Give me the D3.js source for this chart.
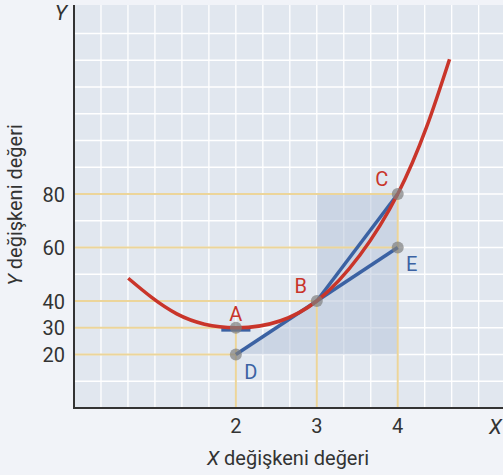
<!doctype html>
<html>
  <head>
    <meta charset="utf-8">
    <style>
      body { margin: 0; background: #f1f3f8; }
      svg { display: block; font-family: Roboto, "Noto Sans", sans-serif; }
    </style>
  </head>
  <body>
    <div id="chart"></div>
    <script src="https://d3js.org/d3.v7.min.js"></script>
    <script>
      // values
      var xTicks = [2, 3, 4];
      var yTicks = [20, 30, 40, 60, 80];
      var curveX = [0.67, 1.27, 2, 3, 4, 4.64];
      var curveY = [48.5, 35.2, 30, 40, 80, 130.4];
      var pointNames = ['A', 'B', 'C', 'D', 'E'];
      var pointX = [2, 3, 4, 2, 4];
      var pointY = [30, 40, 80, 20, 60];
      var shadeX = [2, 3, 3, 4, 4];
      var shadeY = [20, 40, 80, 80, 20];
      var tangentA = [[1.82, 29.2], [2.18, 29.2]];

      var width = 503, height = 475;
      var x = d3.scaleLinear().domain([0, 5.35]).range([74, 507]);
      var y = d3.scaleLinear().domain([0, 150]).range([408, 6.75]);

      var svg = d3.select('#chart').append('svg')
        .attr('width', width).attr('height', height);

      // plot background + grid
      svg.append('rect')
        .attr('x', x(0)).attr('y', 5)
        .attr('width', width - x(0)).attr('height', y(0) - 5)
        .attr('fill', '#e1e7ef');

      var gx = d3.range(1, 16).map(function(i) { return i / 3; });
      var gy = d3.range(10, 150, 10);
      svg.append('g').selectAll('line').data(gx).enter().append('line')
        .attr('x1', x).attr('x2', x).attr('y1', 5).attr('y2', y(0))
        .attr('stroke', '#fff').attr('stroke-width', 1.3);
      svg.append('g').selectAll('line').data(gy).enter().append('line')
        .attr('y1', y).attr('y2', y).attr('x1', x(0)).attr('x2', width)
        .attr('stroke', '#fff').attr('stroke-width', 1.3);

      // shaded region
      var shade = shadeX.map(function(d, i) { return [x(d), y(shadeY[i])]; });
      svg.append('path')
        .attr('d', d3.line()(shade) + 'Z')
        .attr('fill', '#b9c6db').attr('opacity', 0.55);

      // yellow guide lines
      var guide = svg.append('g').attr('stroke', '#ecd59a').attr('stroke-width', 2);
      [0, 1, 2, 3, 4].forEach(function(i) {
        guide.append('line')
          .attr('x1', x(0)).attr('x2', x(pointX[i]))
          .attr('y1', y(pointY[i])).attr('y2', y(pointY[i]));
      });
      [0, 1, 2].forEach(function(i) {
        guide.append('line')
          .attr('x1', x(pointX[i])).attr('x2', x(pointX[i]))
          .attr('y1', y(0)).attr('y2', y(pointY[i]));
      });

      // blue lines
      var blue = '#3b62a3', red = '#c9352a';
      var line = d3.line().x(function(d) { return x(d[0]); }).y(function(d) { return y(d[1]); });
      svg.append('path').attr('d', line([[pointX[1], pointY[1]], [pointX[2], pointY[2]]]))
        .attr('stroke', blue).attr('stroke-width', 3.5).attr('fill', 'none');
      svg.append('path').attr('d', line([[pointX[3], pointY[3]], [pointX[4], pointY[4]]]))
        .attr('stroke', blue).attr('stroke-width', 3.5).attr('fill', 'none');
      svg.append('path').attr('d', line(tangentA))
        .attr('stroke', blue).attr('stroke-width', 3.5).attr('fill', 'none');

      // red curve
      var pts = curveX.map(function(d, i) { return [d, curveY[i]]; });
      svg.append('path')
        .attr('d', d3.line().x(function(d) { return x(d[0]); }).y(function(d) { return y(d[1]); })
          .curve(d3.curveNatural)(pts))
        .attr('stroke', red).attr('stroke-width', 3.5).attr('fill', 'none');

      // points
      svg.append('g').selectAll('circle').data(pointX).enter().append('circle')
        .attr('cx', function(d) { return x(d); })
        .attr('cy', function(d, i) { return y(pointY[i]); })
        .attr('r', 6).attr('fill', '#7f7f7f').attr('opacity', 0.7);

      // point labels
      var labDx = [0, -16, -16, 15, 14];
      var labDy = [-7, -8, -8, 24, 23];
      svg.append('g').selectAll('text').data(pointNames).enter().append('text')
        .attr('x', function(d, i) { return x(pointX[i]) + labDx[i]; })
        .attr('y', function(d, i) { return y(pointY[i]) + labDy[i]; })
        .attr('text-anchor', 'middle').attr('font-size', 20)
        .attr('fill', function(d, i) { return i < 3 ? red : blue; })
        .text(function(d) { return d; });

      // axes
      svg.append('line').attr('x1', x(0)).attr('x2', x(0)).attr('y1', 5).attr('y2', y(0) + 1)
        .attr('stroke', '#333').attr('stroke-width', 2);
      svg.append('line').attr('x1', x(0) - 1).attr('x2', width).attr('y1', y(0)).attr('y2', y(0))
        .attr('stroke', '#333').attr('stroke-width', 2);

      svg.append('g').selectAll('text').data(xTicks).enter().append('text')
        .attr('x', x).attr('y', 433).attr('text-anchor', 'middle')
        .attr('font-size', 20).attr('fill', '#333').text(function(d) { return d; });
      svg.append('g').selectAll('text').data(yTicks).enter().append('text')
        .attr('x', 65).attr('y', function(d) { return y(d) + 7.5; }).attr('text-anchor', 'end')
        .attr('font-size', 20).attr('fill', '#333').text(function(d) { return d; });

      svg.append('text').attr('x', 67).attr('y', 20).attr('text-anchor', 'end')
        .attr('font-size', 21).attr('font-style', 'italic').attr('fill', '#333').text('Y');
      svg.append('text').attr('x', 489).attr('y', 434)
        .attr('font-size', 21).attr('font-style', 'italic').attr('fill', '#333').text('X');

      var xt = svg.append('text').attr('x', 288).attr('y', 465).attr('text-anchor', 'middle')
        .attr('font-size', 20).attr('fill', '#333');
      xt.append('tspan').attr('font-style', 'italic').text('X');
      xt.append('tspan').text(' değişkeni değeri');

      var yt = svg.append('text').attr('transform', 'translate(22,205) rotate(-90)')
        .attr('text-anchor', 'middle').attr('font-size', 20).attr('fill', '#333');
      yt.append('tspan').attr('font-style', 'italic').text('Y');
      yt.append('tspan').text(' değişkeni değeri');
    </script>
  </body>
</html>
